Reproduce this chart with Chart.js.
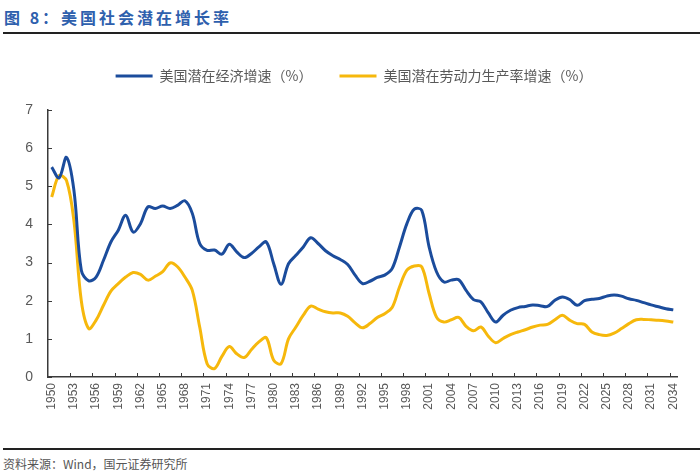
<!DOCTYPE html>
<html>
<head>
<meta charset="utf-8">
<script src="https://cdn.jsdelivr.net/npm/chart.js@4/dist/chart.umd.min.js"></script>
<style>
  body { margin: 0; width: 700px; height: 476px; background: #fff; position: relative; overflow: hidden; font-family: "Noto Sans CJK SC", sans-serif; }
  #title { position: absolute; left: 4px; top: 5px; font-size: 16px; font-weight: bold; color: #2e60ad; letter-spacing: 3px; }
  #topline { position: absolute; left: 3px; right: 0; top: 32px; height: 2px; background: #222; }
  #bottomline { position: absolute; left: 3px; right: 0; top: 448px; height: 2px; background: #222; }
  #source { position: absolute; left: 3px; top: 455px; font-size: 12px; color: #555; }
  #wrap { position: absolute; left: 0; top: 40px; width: 700px; height: 400px; }
</style>
</head>
<body>
<div id="title">图 8：美国社会潜在增长率</div>
<div id="topline"></div>
<div id="wrap"><canvas id="chart"></canvas></div>
<div id="bottomline"></div>
<div id="source">资料来源：Wind，国元证券研究所</div>
<script>
// categories
const years = [
  '1950','1951','1952','1953','1954','1955','1956','1957','1958','1959',
  '1960','1961','1962','1963','1964','1965','1966','1967','1968','1969',
  '1970','1971','1972','1973','1974','1975','1976','1977','1978','1979',
  '1980','1981','1982','1983','1984','1985','1986','1987','1988','1989',
  '1990','1991','1992','1993','1994','1995','1996','1997','1998','1999',
  '2000','2001','2002','2003','2004','2005','2006','2007','2008','2009',
  '2010','2011','2012','2013','2014','2015','2016','2017','2018','2019',
  '2020','2021','2022','2023','2024','2025','2026','2027','2028','2029',
  '2030','2031','2032','2033','2034'
];

// 美国潜在经济增速（%）
const potentialGdp = [
  5.50, 5.22, 5.76, 4.90, 2.80, 2.52, 2.62, 3.06, 3.54, 3.85,
  4.24, 3.80, 4.02, 4.46, 4.42, 4.48, 4.42, 4.50, 4.62, 4.29,
  3.50, 3.32, 3.33, 3.22, 3.48, 3.28, 3.13, 3.24, 3.41, 3.54,
  2.97, 2.43, 2.97, 3.19, 3.41, 3.65, 3.50, 3.31, 3.18, 3.08,
  2.95, 2.67, 2.45, 2.51, 2.61, 2.67, 2.84, 3.41, 4.02, 4.40,
  4.37, 3.41, 2.76, 2.49, 2.54, 2.55, 2.27, 2.03, 1.97, 1.68,
  1.44, 1.62, 1.75, 1.82, 1.85, 1.89, 1.87, 1.85, 2.01, 2.10,
  2.03, 1.88, 2.00, 2.04, 2.06, 2.12, 2.15, 2.12, 2.05, 2.01,
  1.95, 1.89, 1.84, 1.79, 1.76
];

// 美国潜在劳动力生产率增速（%）
const potentialProductivity = [
  4.72, 5.28, 5.15, 4.10, 2.00, 1.27, 1.49, 1.88, 2.25, 2.45,
  2.62, 2.74, 2.69, 2.54, 2.64, 2.76, 2.99, 2.89, 2.62, 2.27,
  1.31, 0.35, 0.22, 0.54, 0.80, 0.61, 0.51, 0.72, 0.92, 1.03,
  0.44, 0.35, 1.00, 1.31, 1.62, 1.86, 1.78, 1.71, 1.68, 1.68,
  1.59, 1.42, 1.29, 1.40, 1.56, 1.66, 1.82, 2.36, 2.80, 2.91,
  2.89, 2.19, 1.57, 1.44, 1.50, 1.56, 1.33, 1.21, 1.31, 1.07,
  0.90, 1.01, 1.11, 1.18, 1.24, 1.31, 1.36, 1.38, 1.50, 1.62,
  1.49, 1.40, 1.38, 1.18, 1.11, 1.09, 1.15, 1.27, 1.40, 1.50,
  1.51, 1.50, 1.49, 1.47, 1.44
];

const yTicks = [0, 1, 2, 3, 4, 5, 6, 7];
const labelStep = 3;

const axisColor = '#3a3a3a';
const textColor = '#595959';

// short tick marks pointing into the plot, like the original
const innerTicks = {
  id: 'innerTicks',
  afterInit(chart) {
    // leave more room between the legend and the plot
    const legend = chart.legend;
    const fit = legend.fit;
    legend.fit = function () {
      fit.call(this);
      this.height += 17;
    };
  },
  afterDraw(chart) {
    const { ctx, scales: { x, y }, chartArea } = chart;
    ctx.save();
    ctx.strokeStyle = axisColor;
    ctx.lineWidth = 1;
    ctx.beginPath();
    for (let i = labelStep; i < years.length; i += labelStep) {
      const px = Math.round((x.getPixelForValue(i - 1) + x.getPixelForValue(i)) / 2) + 0.5;
      ctx.moveTo(px, chartArea.bottom);
      ctx.lineTo(px, chartArea.bottom - 4);
    }
    yTicks.forEach(v => {
      const py = Math.round(y.getPixelForValue(v)) + 0.5;
      ctx.moveTo(chartArea.left, py);
      ctx.lineTo(chartArea.left + 4, py);
    });
    ctx.stroke();
    ctx.restore();
  }
};

const ctx = document.getElementById('chart').getContext('2d');
new Chart(ctx, {
  type: 'line',
  data: {
    labels: years,
    datasets: [{
      label: '美国潜在经济增速（%）',
      data: potentialGdp,
      borderColor: '#1b4c9c',
      backgroundColor: '#1b4c9c',
      borderWidth: 3,
      pointRadius: 0,
      tension: 0.35
    }, {
      label: '美国潜在劳动力生产率增速（%）',
      data: potentialProductivity,
      borderColor: '#f6b80c',
      backgroundColor: '#f6b80c',
      borderWidth: 3,
      pointRadius: 0,
      tension: 0.35
    }]
  },
  options: {
    responsive: true,
    maintainAspectRatio: false,
    animation: false,
    layout: { padding: { top: 2, right: 0, left: 8, bottom: 0 } },
    plugins: {
      tooltip: { enabled: false },
      legend: {
        labels: {
          usePointStyle: true,
          pointStyle: 'line',
          pointStyleWidth: 37,
          boxHeight: 14,
          padding: 27,
          color: textColor,
          font: { family: '"Noto Sans CJK SC", sans-serif', size: 14 }
        }
      }
    },
    scales: {
      x: {
        offset: true,
        grid: { display: false, drawTicks: false },
        border: { display: true, color: axisColor, width: 1.5 },
        ticks: {
          autoSkip: false,
          maxRotation: 90,
          minRotation: 90,
          padding: 6,
          color: textColor,
          font: { family: '"Liberation Sans", Arial, sans-serif', size: 12 },
          callback: (val, i) => (i % labelStep === 0 ? years[i] : '')
        },
        afterFit: (scale) => { scale.height = 63; }
      },
      y: {
        min: 0,
        max: 7,
        grid: { display: false, drawTicks: false },
        border: { display: true, color: axisColor, width: 1.5 },
        ticks: {
          stepSize: 1,
          padding: 15,
          color: textColor,
          font: { family: '"Liberation Sans", Arial, sans-serif', size: 14 }
        },
        afterFit: (scale) => { scale.width = 40; }
      },
      // empty right margin so the plot ends where the original does
      yRight: {
        position: 'right',
        display: true,
        grid: { display: false, drawTicks: false },
        border: { display: false },
        ticks: { display: false },
        afterFit: (scale) => { scale.width = 23; }
      }
    }
  },
  plugins: [innerTicks]
});
</script>
</body>
</html>
